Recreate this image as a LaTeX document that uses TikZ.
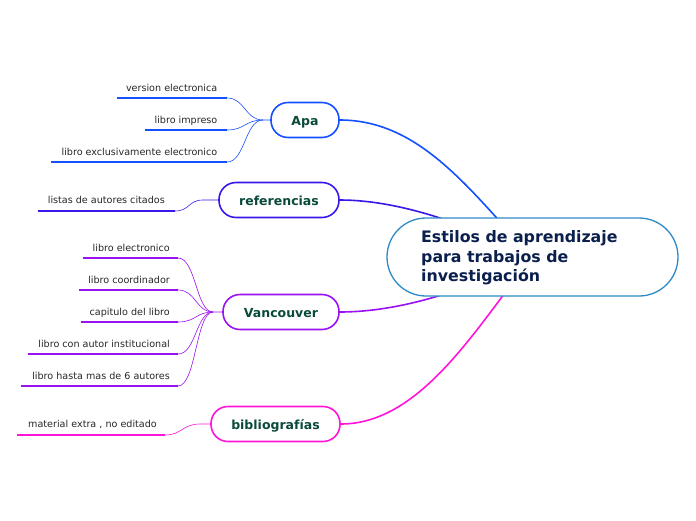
\documentclass[tikz,border=0pt]{standalone}
\usepackage{fontspec}
\setmainfont{DejaVu Sans}
\begin{document}
\begin{tikzpicture}[x=1pt,y=-1pt,
  main/.style={rounded corners=17pt,draw=#1,line width=1.6pt,fill=white,minimum height=35pt,font=\fontsize{12.5}{14}\selectfont\bfseries,text=txtgreen,inner xsep=0pt,text height=11pt,text depth=0.5pt},
  leaf/.style={anchor=base east,font=\fontsize{9.6}{11}\selectfont,text=black!85,inner sep=0pt},
  uline/.style={line width=2.6pt,draw=#1},
  thin/.style={line width=0.6pt,draw=#1},
  thick/.style={line width=1.6pt,draw=#1}]
\definecolor{txtgreen}{HTML}{0A4A3A}
\definecolor{cApa}{HTML}{1450FF}
\definecolor{cRef}{HTML}{3A16E8}
\definecolor{cVan}{HTML}{9A12F2}
\definecolor{cBib}{HTML}{FF14D8}
\definecolor{cCen}{HTML}{2E8BC8}
\definecolor{cNavy}{HTML}{0A1F4D}
\useasboundingbox (0,0) rectangle (696,520);

% main nodes
\node[main=cApa,minimum width=68pt] (apa) at (305,120) {Apa};
\node[main=cRef,minimum width=120pt] (ref) at (279,200) {referencias};
\node[main=cVan,minimum width=116pt] (van) at (281,312) {Vancouver};
\node[main=cBib,minimum width=129pt] (bib) at (275.5,424) {bibliografías};
\coordinate (cc) at (532,257);

% main connectors (behind central node)
\draw[thick=cApa] (apa.east) .. controls (420,120) and (470,190) .. (cc);
\draw[thick=cRef] (ref.east) .. controls (400,200) and (470,225) .. (cc);
\draw[thick=cVan] (van.east) .. controls (400,312) and (470,290) .. (cc);
\draw[thick=cBib] (bib.east) .. controls (420,424) and (475,330) .. (cc);

% central node
\node[rounded corners=39pt,draw=cCen,line width=1.3pt,fill=white,minimum width=291pt,minimum height=78pt] (cen) at (532.5,257) {};
\node[anchor=west,align=left,text=cNavy,font=\fontsize{15.8}{19.5}\selectfont\bfseries,inner sep=0pt] (centext) at (421,258) {Estilos de aprendizaje\\para trabajos de\\investigación};

% Apa leaves
\node[leaf] (a1) at (217.5,91) {version electronica};
\node[leaf] (a2) at (217.5,123) {libro impreso};
\node[leaf] (a3) at (217.5,155) {libro exclusivamente electronico};
\coordinate (a1l) at (117,98); \coordinate (a1r) at (227,98);
\coordinate (a2l) at (145,130); \coordinate (a2r) at (227,130);
\coordinate (a3l) at (51,162); \coordinate (a3r) at (227,162);
\coordinate (aj) at (263,120);
\draw[uline=cApa] (a1l) -- (a1r);
\draw[uline=cApa] (a2l) -- (a2r);
\draw[uline=cApa] (a3l) -- (a3r);
\draw[thin=cApa] (a1r) .. controls (245,98) and (245,120) .. (aj) -- (apa.west);
\draw[thin=cApa] (a2r) .. controls (245,130) and (245,120) .. (aj);
\draw[thin=cApa] (a3r) .. controls (245,162) and (245,120) .. (aj);

% referencias leaf
\node[leaf] (r1) at (165,203) {listas de autores citados};
\coordinate (r1l) at (38,211); \coordinate (r1r) at (175,211);
\coordinate (rj) at (203,200);
\draw[uline=cRef] (r1l) -- (r1r);
\draw[thin=cRef] (r1r) .. controls (190,211) and (188,200) .. (rj) -- (ref.west);

% Vancouver leaves
\node[leaf] (v1) at (170,251) {libro electronico};
\node[leaf] (v2) at (170,283) {libro coordinador};
\node[leaf] (v3) at (170,315) {capitulo del libro};
\node[leaf] (v4) at (170,347) {libro con autor institucional};
\node[leaf] (v5) at (170,379) {libro hasta mas de 6 autores};
\coordinate (v1l) at (83,258); \coordinate (v1r) at (178,258);
\coordinate (v2l) at (79,290); \coordinate (v2r) at (178,290);
\coordinate (v3l) at (81,322); \coordinate (v3r) at (178,322);
\coordinate (v4l) at (28,354); \coordinate (v4r) at (178,354);
\coordinate (v5l) at (21,386); \coordinate (v5r) at (178,386);
\coordinate (vj) at (213,312);
\foreach \i in {1,...,5}{\draw[uline=cVan] (v\i l) -- (v\i r);}
\draw[thin=cVan] (v1r) .. controls (196,258) and (196,312) .. (vj) -- (van.west);
\draw[thin=cVan] (v2r) .. controls (196,290) and (196,312) .. (vj);
\draw[thin=cVan] (v3r) .. controls (196,322) and (196,312) .. (vj);
\draw[thin=cVan] (v4r) .. controls (196,354) and (196,312) .. (vj);
\draw[thin=cVan] (v5r) .. controls (196,386) and (196,312) .. (vj);

% bibliografias leaf
\node[leaf] (b1) at (157,427) {material extra , no editado};
\coordinate (b1l) at (17,435); \coordinate (b1r) at (165,435);
\coordinate (bj) at (200,424);
\draw[uline=cBib] (b1l) -- (b1r);
\draw[thin=cBib] (b1r) .. controls (182,435) and (182,424) .. (bj) -- (bib.west);
\end{tikzpicture}
\end{document}
